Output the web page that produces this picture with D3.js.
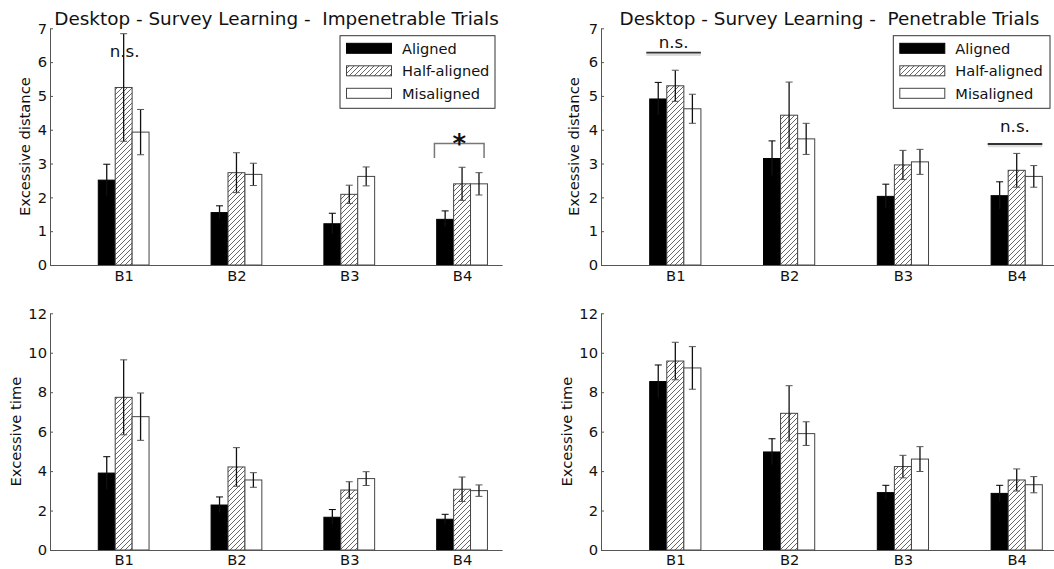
<!DOCTYPE html>
<html>
<head>
<meta charset="utf-8">
<script src="https://cdn.jsdelivr.net/npm/d3@7"></script>
<style>
  html, body { margin: 0; padding: 0; background: #fff; }
  svg { display: block; font-family: "DejaVu Sans", sans-serif; }
</style>
</head>
<body>
<svg id="chart" width="1054" height="569"></svg>
<script>
// Blocks and conditions
const blocks = ["B1", "B2", "B3", "B4"];
const conditions = ["Aligned", "Half-aligned", "Misaligned"];

// Excessive distance, impenetrable trials (rows: Aligned, Half-aligned, Misaligned)
const distImpMeans = [
  [2.51, 1.55, 1.22, 1.35],
  [5.25, 2.73, 2.09, 2.40],
  [3.93, 2.68, 2.62, 2.40]
];
const distImpErr = [
  [0.47, 0.20, 0.31, 0.25],
  [1.59, 0.59, 0.27, 0.49],
  [0.67, 0.33, 0.28, 0.33]
];

// Excessive distance, penetrable trials
const distPenMeans = [
  [4.91, 3.15, 2.03, 2.05],
  [5.30, 4.43, 2.96, 2.80],
  [4.62, 3.73, 3.05, 2.62]
];
const distPenErr = [
  [0.49, 0.52, 0.36, 0.41],
  [0.46, 0.98, 0.43, 0.50],
  [0.43, 0.46, 0.37, 0.32]
];

// Excessive time, impenetrable trials
const timeImpMeans = [
  [3.90, 2.28, 1.66, 1.56],
  [7.74, 4.21, 3.04, 3.08],
  [6.76, 3.55, 3.62, 3.01]
];
const timeImpErr = [
  [0.83, 0.41, 0.39, 0.25],
  [1.90, 0.98, 0.42, 0.62],
  [1.20, 0.37, 0.35, 0.29]
];

// Excessive time, penetrable trials
const timePenMeans = [
  [8.54, 4.97, 2.91, 2.87],
  [9.58, 6.93, 4.23, 3.55],
  [9.23, 5.90, 4.61, 3.31]
];
const timePenErr = [
  [0.84, 0.67, 0.37, 0.41],
  [0.95, 1.40, 0.57, 0.56],
  [1.08, 0.60, 0.63, 0.41]
];

const distTicks = [0, 1, 2, 3, 4, 5, 6, 7];
const timeTicks = [0, 2, 4, 6, 8, 10, 12];

const svg = d3.select("#chart");

// Diagonal hatch for the half-aligned bars
const defs = svg.append("defs");
const hatch = defs.append("pattern")
  .attr("id", "hatch")
  .attr("patternUnits", "userSpaceOnUse")
  .attr("width", 5).attr("height", 5);
hatch.append("rect").attr("width", 5).attr("height", 5).attr("fill", "#fff");
hatch.append("path")
  .attr("d", "M0,5 L5,0 M-1.25,1.25 L1.25,-1.25 M3.75,6.25 L6.25,3.75")
  .attr("stroke", "#555").attr("stroke-width", 0.9);

const fills = ["#000", "url(#hatch)", "#fff"];
const strokes = ["#000", "#444", "#444"];
const capColors = ["#000", "#555", "#555"];
const barW = 0.15;           // bar width in group units
const fontSize = 14.7;

const panels = [
  { title: "Desktop - Survey Learning -  Impenetrable Trials", ylabel: "Excessive distance",
    means: distImpMeans, errs: distImpErr, ticks: distTicks, ymax: 7,
    x0: 50, x1: 502, yTop: 28.3, yBot: 265, ylabelX: 29.5, titleX: 276.5, titleY: 25,
    labelY: 280.7, legend: { x: 340, y: 35.7, w: 155, h: 72.6 } },
  { title: "Desktop - Survey Learning -  Penetrable Trials", ylabel: "Excessive distance",
    means: distPenMeans, errs: distPenErr, ticks: distTicks, ymax: 7,
    x0: 601, x1: 1057, yTop: 28.3, yBot: 265, ylabelX: 579.3, titleX: 829.5, titleY: 25,
    labelY: 280.7, legend: { x: 893.3, y: 35.7, w: 156.7, h: 72.6 } },
  { title: null, ylabel: "Excessive time",
    means: timeImpMeans, errs: timeImpErr, ticks: timeTicks, ymax: 12,
    x0: 50, x1: 502, yTop: 313.3, yBot: 550, ylabelX: 20.7,
    labelY: 565 },
  { title: null, ylabel: "Excessive time",
    means: timePenMeans, errs: timePenErr, ticks: timeTicks, ymax: 12,
    x0: 601, x1: 1057, yTop: 313.3, yBot: 550, ylabelX: 571.7,
    labelY: 565 }
];

panels.forEach((p) => {
  const g = svg.append("g");
  const x = d3.scaleLinear().domain([-0.428, 3.579]).range([p.x0, p.x1]);
  const y = d3.scaleLinear().domain([0, p.ymax]).range([p.yBot, p.yTop]);
  p.xs = x; p.ys = y;

  // Bars
  conditions.forEach((c, ci) => {
    g.append("g").selectAll("rect")
      .data(p.means[ci])
      .join("rect")
      .attr("x", (d, i) => x(i + ci * barW))
      .attr("y", d => y(d))
      .attr("width", x(barW) - x(0))
      .attr("height", d => y(0) - y(d))
      .attr("fill", fills[ci])
      .attr("stroke", strokes[ci])
      .attr("stroke-width", 1);
  });

  // Error bars
  conditions.forEach((c, ci) => {
    const eg = g.append("g");
    p.means[ci].forEach((m, i) => {
      const e = p.errs[ci][i];
      const cx = x(i + ci * barW + barW / 2);
      eg.append("line")
        .attr("x1", cx).attr("x2", cx)
        .attr("y1", y(m - e)).attr("y2", y(m + e))
        .attr("stroke", "#111").attr("stroke-width", 1.3);
      [m - e, m + e].forEach(v => {
        eg.append("line")
          .attr("x1", cx - 3.5).attr("x2", cx + 3.5)
          .attr("y1", y(v)).attr("y2", y(v))
          .attr("stroke", capColors[ci]).attr("stroke-width", 1);
      });
    });
  });

  // Y axis with small inward ticks
  const yAxis = d3.axisLeft(y).tickValues(p.ticks).tickSize(0).tickPadding(3)
    .tickFormat(d3.format("d"));
  const ya = g.append("g").attr("transform", `translate(${p.x0},0)`).call(yAxis);
  ya.select(".domain").attr("stroke", "#555").attr("stroke-width", 1);
  ya.selectAll(".tick text").attr("font-size", fontSize).attr("fill", "#111")
    .attr("font-family", "DejaVu Sans");
  ya.selectAll(".tick").append("line")
    .attr("x1", 0).attr("x2", 3).attr("stroke", "#555");

  // X axis with group labels centred under each group
  const xAxis = d3.axisBottom(x).tickValues(blocks.map((b, i) => i + 1.5 * barW))
    .tickSize(0).tickPadding(0).tickFormat((d, i) => blocks[i]);
  const xa = g.append("g").attr("transform", `translate(0,${p.yBot})`).call(xAxis);
  xa.select(".domain").attr("stroke", "#555").attr("stroke-width", 1);
  xa.selectAll(".tick text").attr("font-size", fontSize).attr("fill", "#111")
    .attr("font-family", "DejaVu Sans")
    .attr("dy", null).attr("y", p.labelY - p.yBot);

  // Y label
  g.append("text")
    .attr("transform", `translate(${p.ylabelX},${(p.yTop + p.yBot) / 2}) rotate(-90)`)
    .attr("text-anchor", "middle")
    .attr("font-size", fontSize).attr("fill", "#111")
    .text(p.ylabel);

  // Title
  if (p.title) {
    g.append("text")
      .attr("x", p.titleX).attr("y", p.titleY)
      .attr("text-anchor", "middle")
      .attr("font-size", 18.4).attr("fill", "#111")
      .style("white-space", "pre")
      .attr("xml:space", "preserve")
      .text(p.title);
  }

  // Legend
  if (p.legend) {
    const L = p.legend;
    const lg = g.append("g");
    lg.append("rect").attr("x", L.x).attr("y", L.y).attr("width", L.w).attr("height", L.h)
      .attr("fill", "#fff").attr("stroke", "#333").attr("stroke-width", 1);
    conditions.forEach((c, ci) => {
      const cy = L.y + 12.6 + ci * 22.5;
      lg.append("rect")
        .attr("x", L.x + 6.5).attr("y", cy - 5).attr("width", 45).attr("height", 10)
        .attr("fill", fills[ci]).attr("stroke", strokes[ci]).attr("stroke-width", 1);
      lg.append("text")
        .attr("x", L.x + 62).attr("y", cy + 5.2)
        .attr("font-size", 14.6).attr("fill", "#111")
        .text(c);
    });
  }
});

// Significance annotations
const pTL = panels[0], pTR = panels[1];
const ann = svg.append("g");

// top-left: n.s. over B1, bracket with * over B4
ann.append("text")
  .attr("x", pTL.xs(0 + 1.5 * barW) + 1).attr("y", 57)
  .attr("text-anchor", "middle").attr("font-size", 16.7).attr("fill", "#111")
  .text("n.s.");
const bx0 = pTL.xs(3 - 0.02), bx1 = pTL.xs(3 + 3 * barW - 0.03);
ann.append("path")
  .attr("d", `M${bx0},158 L${bx0},${143.5} L${bx1},${143.5} L${bx1},158`)
  .attr("fill", "none").attr("stroke", "#777").attr("stroke-width", 1.5);
ann.append("text")
  .attr("x", (bx0 + bx1) / 2).attr("y", 153)
  .attr("text-anchor", "middle").attr("font-size", 26).attr("font-weight", "bold")
  .attr("fill", "#111")
  .text("*");

// top-right: n.s. over B1 and B4 with lines
[[0, 48.3, 52.7], [3, 131.7, 144]].forEach(([i, ty, ly]) => {
  const lx0 = pTR.xs(i - 0.03), lx1 = pTR.xs(i + 3 * barW);
  ann.append("line")
    .attr("x1", lx0).attr("x2", lx1).attr("y1", ly + 2).attr("y2", ly + 2)
    .attr("stroke", "#ddd").attr("stroke-width", 2.5);
  ann.append("line")
    .attr("x1", lx0).attr("x2", lx1).attr("y1", ly).attr("y2", ly)
    .attr("stroke", "#333").attr("stroke-width", 1.8);
  ann.append("text")
    .attr("x", (lx0 + lx1) / 2).attr("y", ty)
    .attr("text-anchor", "middle").attr("font-size", 16.7).attr("fill", "#111")
    .text("n.s.");
});
</script>
</body>
</html>
